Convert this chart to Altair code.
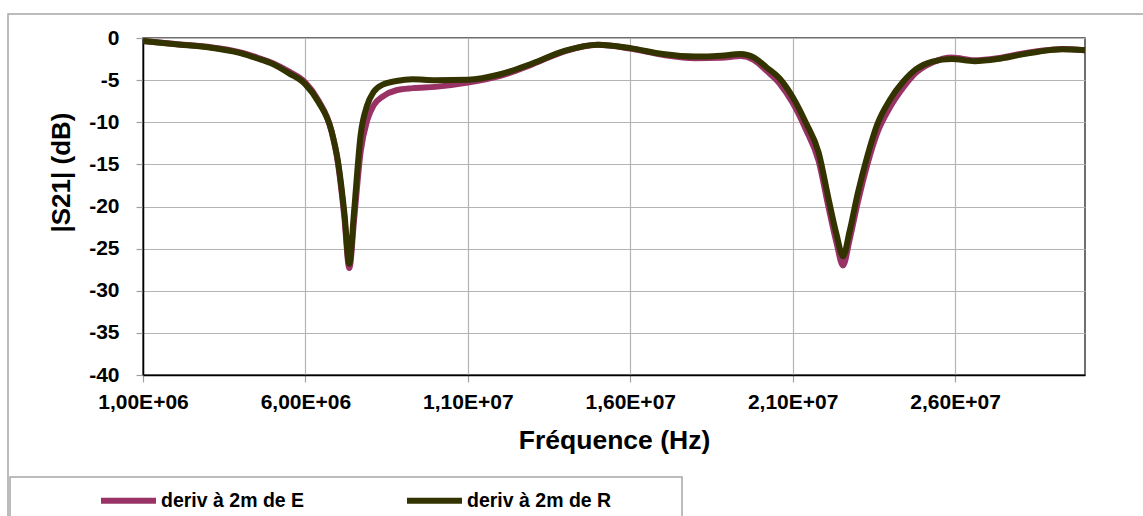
import altair as alt
import pandas as pd

freq_mhz = [1.0, 2.0, 3.0, 4.0, 4.5, 5.0, 5.5, 6.0, 6.4, 6.8, 7.0, 7.2, 7.35, 7.5, 7.7, 7.9, 8.1, 8.4, 8.8, 9.3,
            10.0, 11.0, 12.0, 13.0, 14.0, 15.0, 16.0, 17.0, 18.0, 18.8, 19.4, 19.8, 20.2, 20.6, 21.0, 21.4, 21.8,
            22.1, 22.35, 22.55, 22.75, 23.0, 23.3, 23.6, 24.0, 24.4, 24.8, 25.3, 25.9, 26.6, 27.3, 28.0, 28.6,
            29.3, 30.0]

s21_E = [-0.36, -0.72, -1.05, -1.7, -2.3, -3.0, -4.0, -5.3, -7.4, -11.0, -14.8, -21.3, -27.3,
         -21.5, -13.5, -9.8, -8.0, -6.9, -6.2, -5.95, -5.8, -5.3, -4.5, -3.1,
         -1.55, -0.8, -1.25, -2.0, -2.4, -2.35, -2.15, -2.6, -3.9, -5.4,
         -7.7, -10.8, -14.6, -20.0, -24.3, -27.0, -24.0, -19.6, -15.0, -11.3,
         -8.2, -5.9, -4.1, -2.9, -2.3, -2.65, -2.4, -1.9, -1.55, -1.3, -1.45]

s21_R = [-0.36, -0.75, -1.1, -1.8, -2.4, -3.1, -4.2, -5.5, -7.6, -11.0, -14.6, -20.8, -26.8,
         -20.5, -11.5, -8.0, -6.4, -5.5, -5.1, -4.9, -5.0, -4.95, -4.3, -3.0,
         -1.5, -0.8, -1.2, -1.9, -2.2, -2.1, -1.9, -2.3, -3.5, -4.8,
         -7.0, -10.0, -13.6, -19.0, -23.3, -25.9, -23.0, -18.5, -14.0, -10.3,
         -7.3, -5.2, -3.7, -2.8, -2.5, -2.75, -2.5, -2.0, -1.6, -1.35, -1.45]

series_names = ["deriv à 2m de E", "deriv à 2m de R"]
series_colors = ["#993366", "#333300"]
x_ticks = [1e6, 6e6, 1.1e7, 1.6e7, 2.1e7, 2.6e7]
y_ticks = [-40, -35, -30, -25, -20, -15, -10, -5, 0]

rows = []
for f, e in zip(freq_mhz, s21_E):
    rows.append({"freq": f * 1e6, "db": e, "serie": series_names[0]})
for f, r in zip(freq_mhz, s21_R):
    rows.append({"freq": f * 1e6, "db": r, "serie": series_names[1]})
df = pd.DataFrame(rows)

FONT = "Liberation Sans"

lines = alt.Chart(df).mark_line(strokeWidth=6, interpolate="monotone").encode(
    x=alt.X("freq:Q",
            scale=alt.Scale(domain=[1e6, 3e7], nice=False, zero=False),
            axis=alt.Axis(values=x_ticks, title="Fréquence (Hz)",
                          labelExpr="replace(replace(format(datum.value, '.2e'), '.', ','), 'e+', 'E+0')",
                          labelFont=FONT, labelFontSize=21, labelFontWeight="bold", labelColor="black",
                          labelPadding=9, labelFlush=False, labelOverlap=False,
                          titleFont=FONT, titleFontSize=26.5, titleFontWeight="bold", titleColor="black",
                          titlePadding=15,
                          grid=True, gridColor="#b4b4b4", gridWidth=1.2,
                          domainColor="black", domainWidth=1.5,
                          tickColor="#a0a0a0", tickSize=7, tickWidth=1.2)),
    y=alt.Y("db:Q",
            scale=alt.Scale(domain=[-40, 0], nice=False),
            axis=alt.Axis(values=y_ticks, title="|S21| (dB)",
                          labelExpr="toString(datum.value)",
                          labelFont=FONT, labelFontSize=21, labelFontWeight="bold", labelColor="black",
                          labelPadding=17,
                          titleFont=FONT, titleFontSize=26, titleFontWeight="bold", titleColor="black",
                          titlePadding=14, titleY=134,
                          grid=True, gridColor="#b4b4b4", gridWidth=1.2,
                          domainColor="black", domainWidth=1.5,
                          tickColor="#a0a0a0", tickSize=7, tickWidth=1.2)),
    color=alt.Color("serie:N",
                    scale=alt.Scale(domain=series_names, range=series_colors),
                    legend=alt.Legend(title=None, orient="none", legendX=-45, legendY=432,
                                      direction="horizontal", symbolType="stroke",
                                      symbolSize=3025, symbolStrokeWidth=6,
                                      labelFont=FONT, labelFontSize=19.5, labelFontWeight="bold",
                                      labelColor="black", labelOffset=2, columnPadding=90,
                                      padding=0, labelLimit=400)),
)

one = pd.DataFrame({"a": [0]})
frame = alt.Chart(one).mark_rect(filled=False, stroke="#a6a6a6", strokeWidth=1.5, clip=False).encode(
    x=alt.value(-135), x2=alt.value(1100), y=alt.value(-24), y2=alt.value(600))
legend_box = alt.Chart(one).mark_rect(filled=False, stroke="#a6a6a6", strokeWidth=1.5, clip=False).encode(
    x=alt.value(-133), x2=alt.value(539), y=alt.value(439), y2=alt.value(600))

chart = alt.layer(frame, legend_box, lines).properties(
    width=942, height=337,
    padding={"left": 143, "top": 38, "right": 58, "bottom": 141},
    autosize=alt.AutoSizeParams(type="none"),
    background="white",
).configure_view(stroke="#404040", strokeWidth=1.5)

chart.save("out.html", embed_options={"renderer": "svg", "actions": False})
